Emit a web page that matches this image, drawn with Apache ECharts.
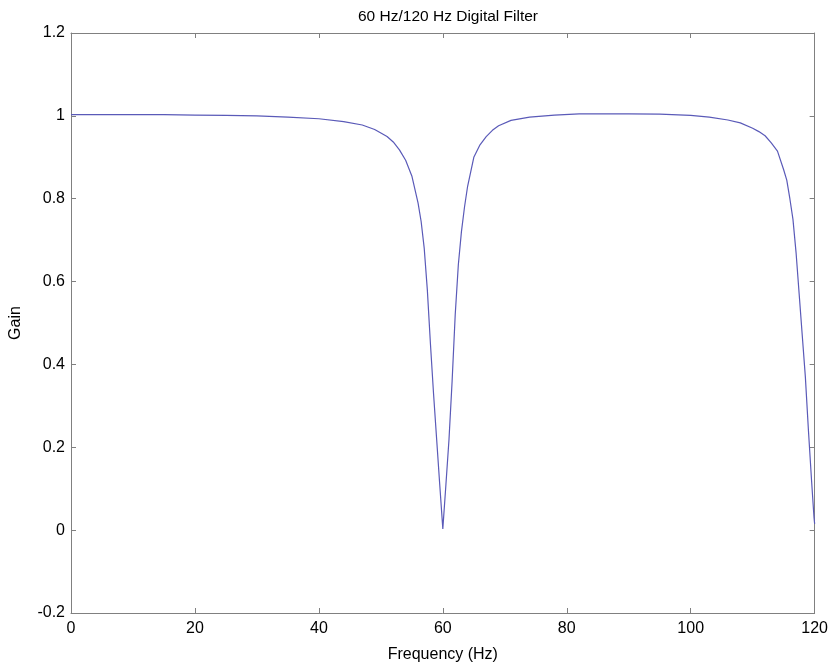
<!DOCTYPE html>
<html>
<head>
<meta charset="utf-8">
<script src="https://cdn.jsdelivr.net/npm/echarts@6/dist/echarts.min.js"></script>
<style>
html,body{margin:0;padding:0;background:#fff;}
#chart{width:831px;height:668px;}
</style>
</head>
<body>
<div id="chart"></div>
<script>
var titleText = "60 Hz/120 Hz Digital Filter";
var xName = "Frequency (Hz)";
var yName = "Gain";

var freq = [0,5,10,15,20,25,30,35,40,44,47,49,51,52,53,54,55,56,56.5,57,57.5,58,58.5,59,59.5,60,
            60.5,61,61.5,62,62.5,63,63.5,64,65,66,67,68,69,71,74,78,82,86,90,95,100,103,106,108,110,
            111,112,113,114,115,115.5,116,116.5,117,117.5,118,118.5,119,119.5,119.9,120];
var gain = [1.003,1.003,1.003,1.003,1.002,1.001,1.000,0.997,0.993,0.986,0.978,0.967,0.950,0.937,0.918,0.893,0.855,0.790,0.745,0.680,0.580,0.450,0.330,0.220,0.110,0.003,
            0.110,0.220,0.360,0.520,0.640,0.720,0.780,0.830,0.900,0.930,0.950,0.965,0.976,0.989,0.997,1.002,1.005,1.005,1.005,1.004,1.001,0.997,0.990,0.983,0.970,
            0.962,0.952,0.935,0.915,0.870,0.845,0.800,0.750,0.670,0.570,0.470,0.370,0.240,0.120,0.030,0.015];

var xTicks = [0,20,40,60,80,100,120];
var yTicks = [-0.2,0,0.2,0.4,0.6,0.8,1,1.2];

var data = freq.map(function(f,i){return [f,gain[i]];});
var font = "'Liberation Sans', Arial, sans-serif";
var boxColor = '#808080';

var chart = echarts.init(document.getElementById('chart'));
function yfmt(v){ return String(+v.toFixed(1)); }
var lineCfg = {show:true,onZero:false,lineStyle:{color:boxColor,width:1}};
var tickCfg = {show:true,inside:true,length:5,lineStyle:{color:boxColor}};
chart.setOption({
  animation:false,
  backgroundColor:'#fff',
  title:{text:titleText,left:443,top:4,textAlign:'center',
    textStyle:{fontFamily:font,fontSize:15.5,fontWeight:'normal',color:'#000'}},
  grid:{left:71,top:33,right:15,bottom:48,containLabel:false},
  xAxis:[{
    type:'value',position:'bottom',min:xTicks[0],max:xTicks[xTicks.length-1],interval:20,
    name:xName,nameLocation:'middle',nameGap:34,
    nameTextStyle:{fontFamily:font,fontSize:16,color:'#000'},
    axisLine:lineCfg, axisTick:tickCfg,
    axisLabel:{fontFamily:font,fontSize:16,color:'#000',margin:8},
    splitLine:{show:false}
  },{
    type:'value',position:'top',min:xTicks[0],max:xTicks[xTicks.length-1],interval:20,
    axisLine:lineCfg, axisTick:tickCfg,
    axisLabel:{show:false},splitLine:{show:false}
  }],
  yAxis:[{
    type:'value',position:'left',min:yTicks[0],max:yTicks[yTicks.length-1],interval:0.2,
    name:yName,nameLocation:'middle',nameGap:47,
    nameTextStyle:{fontFamily:font,fontSize:16,color:'#000'},
    axisLine:lineCfg, axisTick:tickCfg,
    axisLabel:{fontFamily:font,fontSize:16,color:'#000',margin:6,formatter:yfmt},
    splitLine:{show:false}
  },{
    type:'value',position:'right',min:yTicks[0],max:yTicks[yTicks.length-1],interval:0.2,
    axisLine:lineCfg, axisTick:tickCfg,
    axisLabel:{show:false},splitLine:{show:false}
  }],
  series:[{
    type:'line',data:data,xAxisIndex:0,yAxisIndex:0,
    showSymbol:false,smooth:false,
    lineStyle:{color:'#5a5ab8',width:1.2}
  }]
});
</script>
</body>
</html>
